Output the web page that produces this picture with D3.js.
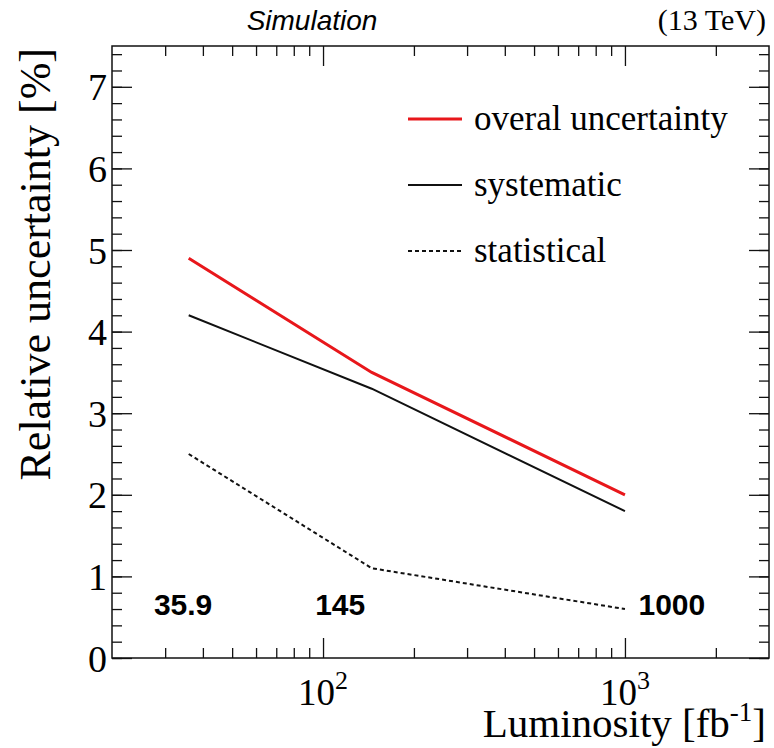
<!DOCTYPE html>
<html>
<head>
<meta charset="utf-8">
<script src="https://cdn.jsdelivr.net/npm/d3@7"></script>
<style>
  body { margin: 0; background: #fff; }
  svg { display: block; }
</style>
</head>
<body>
<svg id="chart" width="774" height="748"></svg>
<script>
// luminosity points in fb^-1
const lumi = [35.9, 145, 1000];
const overall = [4.9, 3.5, 2.0];
const systematic = [4.2, 3.3, 1.8];
const statistical = [2.5, 1.1, 0.6];

const seriesNames = ["overal uncertainty", "systematic", "statistical"];
const seriesColors = ["#e8171b", "#111", "#111"];

// numbers written inside the frame
const lumiLabels = ["35.9", "145", "1000"];
const lumiLabelX = [34.4, 114, 1430];
const lumiLabelY = 0.53;

const xMajor = [100, 1000];
const xMinor = [30, 40, 50, 60, 70, 80, 90, 200, 300, 400, 500, 600, 700, 800, 900, 2000];
const yMajor = [0, 1, 2, 3, 4, 5, 6, 7];
const yMinor = d3.range(0, 7.6, 0.2);

var margin = {left: 112, right: 5, top: 46, bottom: 90},
    width = 774 - margin.left - margin.right,
    height = 748 - margin.top - margin.bottom;

var serif = "'Liberation Serif', 'Times New Roman', serif",
    sans = "'Liberation Sans', Arial, sans-serif";

var svg = d3.select("#chart");
var g = svg.append("g").attr("transform", "translate(" + margin.left + "," + margin.top + ")");

var x = d3.scaleLog().domain([20, 3000]).range([0, width]);
var y = d3.scaleLinear().domain([0, 7.5]).range([height, 0]);

function drawAxis(gen, tx, ty) {
    var a = g.append("g").attr("transform", "translate(" + tx + "," + ty + ")").call(gen);
    a.select(".domain").remove();
    a.selectAll(".tick line").attr("stroke", "#111").attr("stroke-width", 1.3);
    return a;
}

// ticks on all four sides, pointing into the frame
[[xMinor, 10], [xMajor, 20]].forEach(function(t) {
    drawAxis(d3.axisBottom(x).tickValues(t[0]).tickSize(-t[1]).tickFormat(""), 0, height);
    drawAxis(d3.axisTop(x).tickValues(t[0]).tickSize(-t[1]).tickFormat(""), 0, 0);
});
[[yMinor, 10], [yMajor, 20]].forEach(function(t) {
    drawAxis(d3.axisLeft(y).tickValues(t[0]).tickSize(-t[1]).tickFormat(""), 0, 0);
    drawAxis(d3.axisRight(y).tickValues(t[0]).tickSize(-t[1]).tickFormat(""), width, 0);
});

// tick labels
g.append("g").selectAll("text").data(yMajor).join("text")
    .attr("x", -5)
    .attr("y", d => y(d))
    .attr("dy", "0.36em")
    .attr("text-anchor", "end")
    .style("font-family", serif)
    .style("font-size", "38px")
    .text(d => d);

var xl = g.append("g").selectAll("text").data(xMajor).join("text")
    .attr("x", d => x(d))
    .attr("y", height + 47)
    .attr("text-anchor", "middle")
    .style("font-family", serif)
    .style("font-size", "37px");
xl.append("tspan").text("10");
xl.append("tspan").attr("dy", -16).style("font-size", "26px").text(d => Math.round(Math.log10(d)));

// frame
g.append("rect")
    .attr("width", width)
    .attr("height", height)
    .attr("fill", "none")
    .attr("stroke", "#111")
    .attr("stroke-width", 1.5);

// curves
var line = d3.line().x(d => x(d[0])).y(d => y(d[1]));
var series = [overall, systematic, statistical];
var widths = [3, 2, 2],
    dashes = [null, null, "4,3"];

series.forEach(function(vals, i) {
    g.append("path")
        .datum(d3.zip(lumi, vals))
        .attr("fill", "none")
        .attr("stroke", seriesColors[i])
        .attr("stroke-width", widths[i])
        .attr("stroke-dasharray", dashes[i])
        .attr("d", line);
});

// legend
var leg = g.append("g").attr("transform", "translate(296,73)");
var item = leg.selectAll("g").data(seriesNames).join("g")
    .attr("transform", (d, i) => "translate(0," + i * 66 + ")");
item.append("line")
    .attr("x1", 0).attr("x2", 54)
    .attr("stroke", (d, i) => seriesColors[i])
    .attr("stroke-width", (d, i) => widths[i])
    .attr("stroke-dasharray", (d, i) => dashes[i]);
item.append("text")
    .attr("x", 66)
    .attr("dy", "0.32em")
    .style("font-family", serif)
    .style("font-size", "35px")
    .text(d => d);

// luminosity values inside the plot
g.append("g").selectAll("text").data(lumiLabels).join("text")
    .attr("x", (d, i) => x(lumiLabelX[i]))
    .attr("y", y(lumiLabelY))
    .attr("text-anchor", "middle")
    .style("font-family", sans)
    .style("font-weight", "bold")
    .style("font-size", "30px")
    .text(d => d);

// axis titles
svg.append("text")
    .attr("transform", "translate(50,48) rotate(-90)")
    .attr("text-anchor", "end")
    .style("font-family", serif)
    .style("font-size", "44px")
    .text("Relative uncertainty [%]");

var xt = svg.append("text")
    .attr("x", 766)
    .attr("y", 737)
    .attr("text-anchor", "end")
    .style("font-family", serif)
    .style("font-size", "41px");
xt.append("tspan").text("Luminosity [fb");
xt.append("tspan").attr("dy", -16).style("font-size", "27px").text("-1");
xt.append("tspan").attr("dy", 16).text("]");

// header
svg.append("text")
    .attr("x", 312)
    .attr("y", 30)
    .attr("text-anchor", "middle")
    .style("font-family", sans)
    .style("font-style", "italic")
    .style("font-size", "28px")
    .text("Simulation");

svg.append("text")
    .attr("x", 766)
    .attr("y", 30)
    .attr("text-anchor", "end")
    .style("font-family", serif)
    .style("font-size", "30px")
    .text("(13 TeV)");
</script>
</body>
</html>
